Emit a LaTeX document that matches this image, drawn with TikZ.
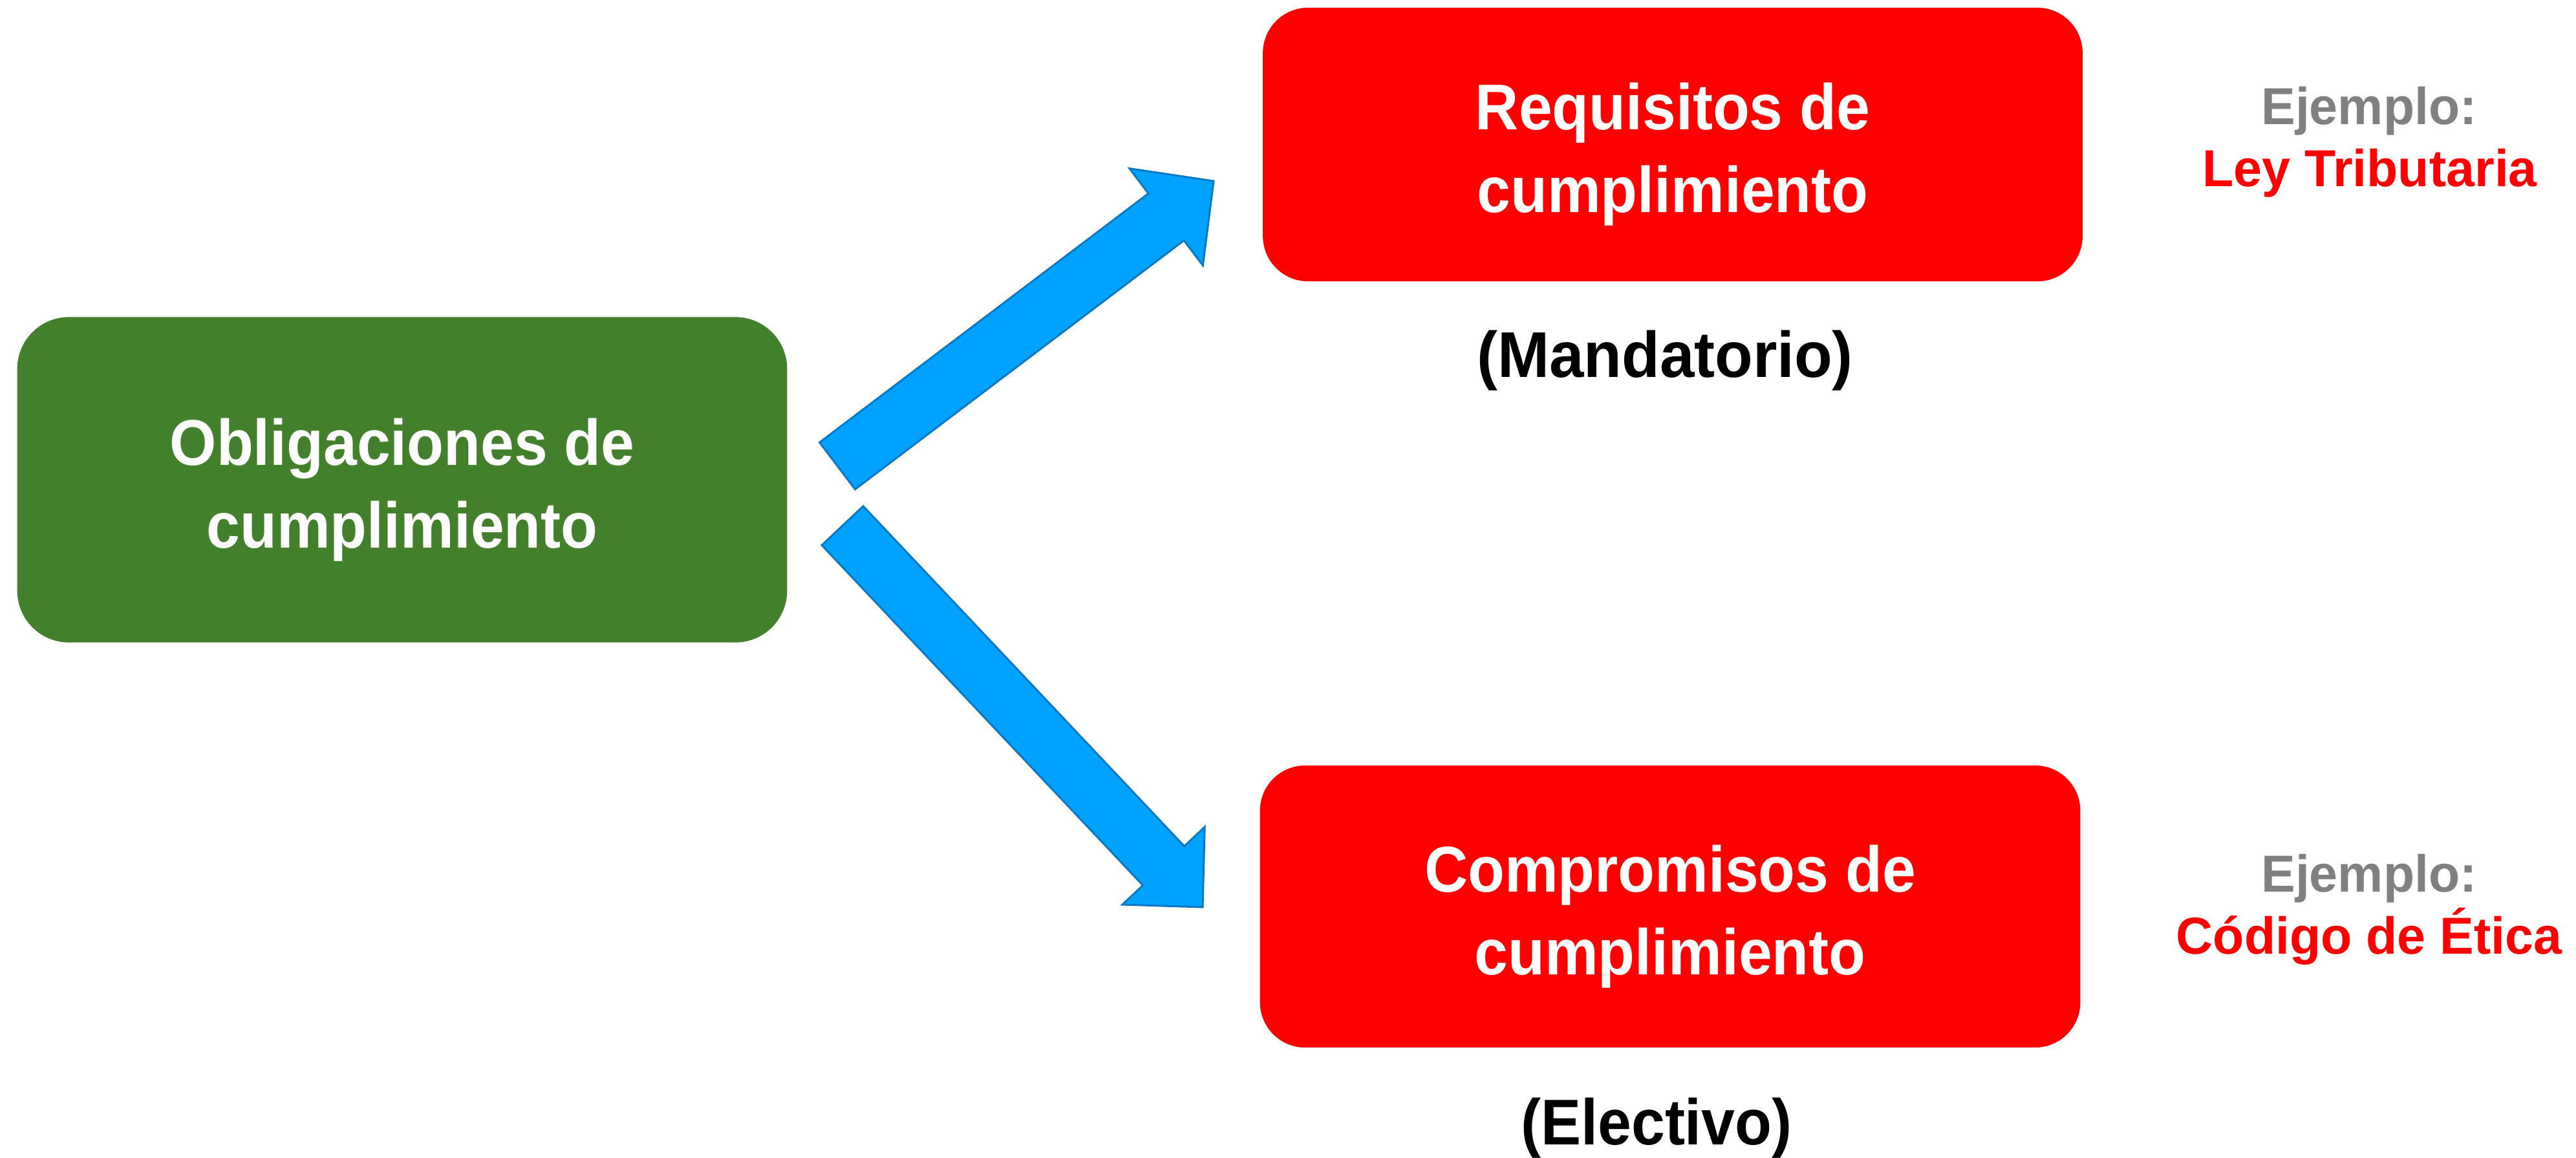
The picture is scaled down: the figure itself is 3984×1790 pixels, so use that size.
\documentclass[tikz,border=0pt]{standalone}
\usepackage{fontspec}
\setmainfont{Liberation Sans}[FakeStretch=0.93]
\newfontfamily\exfont{Liberation Sans}[FakeStretch=0.98]
\newfontfamily\mandfont{Liberation Sans}[FakeStretch=0.96]
\usetikzlibrary{calc}
\definecolor{obgreen}{HTML}{42802C}
\definecolor{bred}{HTML}{FF0000}
\definecolor{afill}{HTML}{00A2FF}
\definecolor{aline}{HTML}{0A78C4}
\definecolor{egray}{HTML}{808080}
% block arrow: #1 tail coordinate, #2 tip coordinate, #3 head length, #4 shaft half width, #5 head half width
\newcommand{\blkarrow}[5]{%
  \coordinate (#1n) at ($(#2)!#3!(#1)$);
  \draw[barrow] ($(#1)!#4!90:(#2)$) -- ($(#1n)!#4!90:(#2)$) -- ($(#1n)!#5!90:(#2)$)
    -- (#2) -- ($(#1n)!#5!-90:(#2)$) -- ($(#1n)!#4!-90:(#2)$) -- ($(#1)!#4!-90:(#2)$) -- cycle;
}
\begin{document}
\begin{tikzpicture}[x=0.01cm,y=-0.01cm,
  boxtext/.style={inner sep=0pt, align=center, text=white,
    font=\bfseries\fontsize{28.45}{36.42}\selectfont},
  greenbox/.style={boxtext, fill=obgreen, rounded corners=0.8cm},
  redbox/.style={boxtext, fill=bred, rounded corners=0.7cm},
  kindtext/.style={inner sep=0pt, anchor=base, text=black,
    font=\bfseries\fontsize{28.45}{34}\selectfont},
  extext/.style={inner sep=0pt, anchor=base,
    font=\exfont\bfseries\fontsize{22.9}{28}\selectfont},
  barrow/.style={fill=afill, draw=aline, line width=0.85pt, line join=miter}]
\useasboundingbox (0,0) rectangle (3984,1790);

\node[greenbox, minimum width=11.9cm, minimum height=5.03cm] (obl) at (622,742)
  {\rule{0pt}{1.03cm}Obligaciones de\\cumplimiento};
\node[redbox, minimum width=12.67cm, minimum height=4.23cm] (req) at (2587,223.5)
  {\rule{0pt}{1.03cm}Requisitos de\\cumplimiento};
\node[redbox, minimum width=12.68cm, minimum height=4.36cm] (comp) at (2583,1402)
  {\rule{0pt}{1.03cm}Compromisos de\\cumplimiento};

\node[kindtext, font=\mandfont\bfseries\fontsize{28.45}{34}\selectfont] (mand) at (2575,583) {(Mandatorio)};
\node[kindtext] (elec) at (2562,1770) {(Electivo)};

\node[extext, text=egray] (ej1) at (3664,192) {Ejemplo:};
\node[extext, text=bred] (ley) at (3665,288) {Ley Tributaria};
\node[extext, text=egray] (ej2) at (3664,1379) {Ejemplo:};
\node[extext, text=bred] (cod) at (3664,1475) {Código de Ética};

\coordinate (t1) at (1295,720.5);
\coordinate (h1) at (1877,280);
\coordinate (t2) at (1303,813);
\coordinate (h2) at (1860,1403);
\blkarrow{t1}{h1}{0.92cm}{0.455cm}{0.94cm}
\blkarrow{t2}{h2}{0.88cm}{0.44cm}{0.875cm}
\end{tikzpicture}
\end{document}
